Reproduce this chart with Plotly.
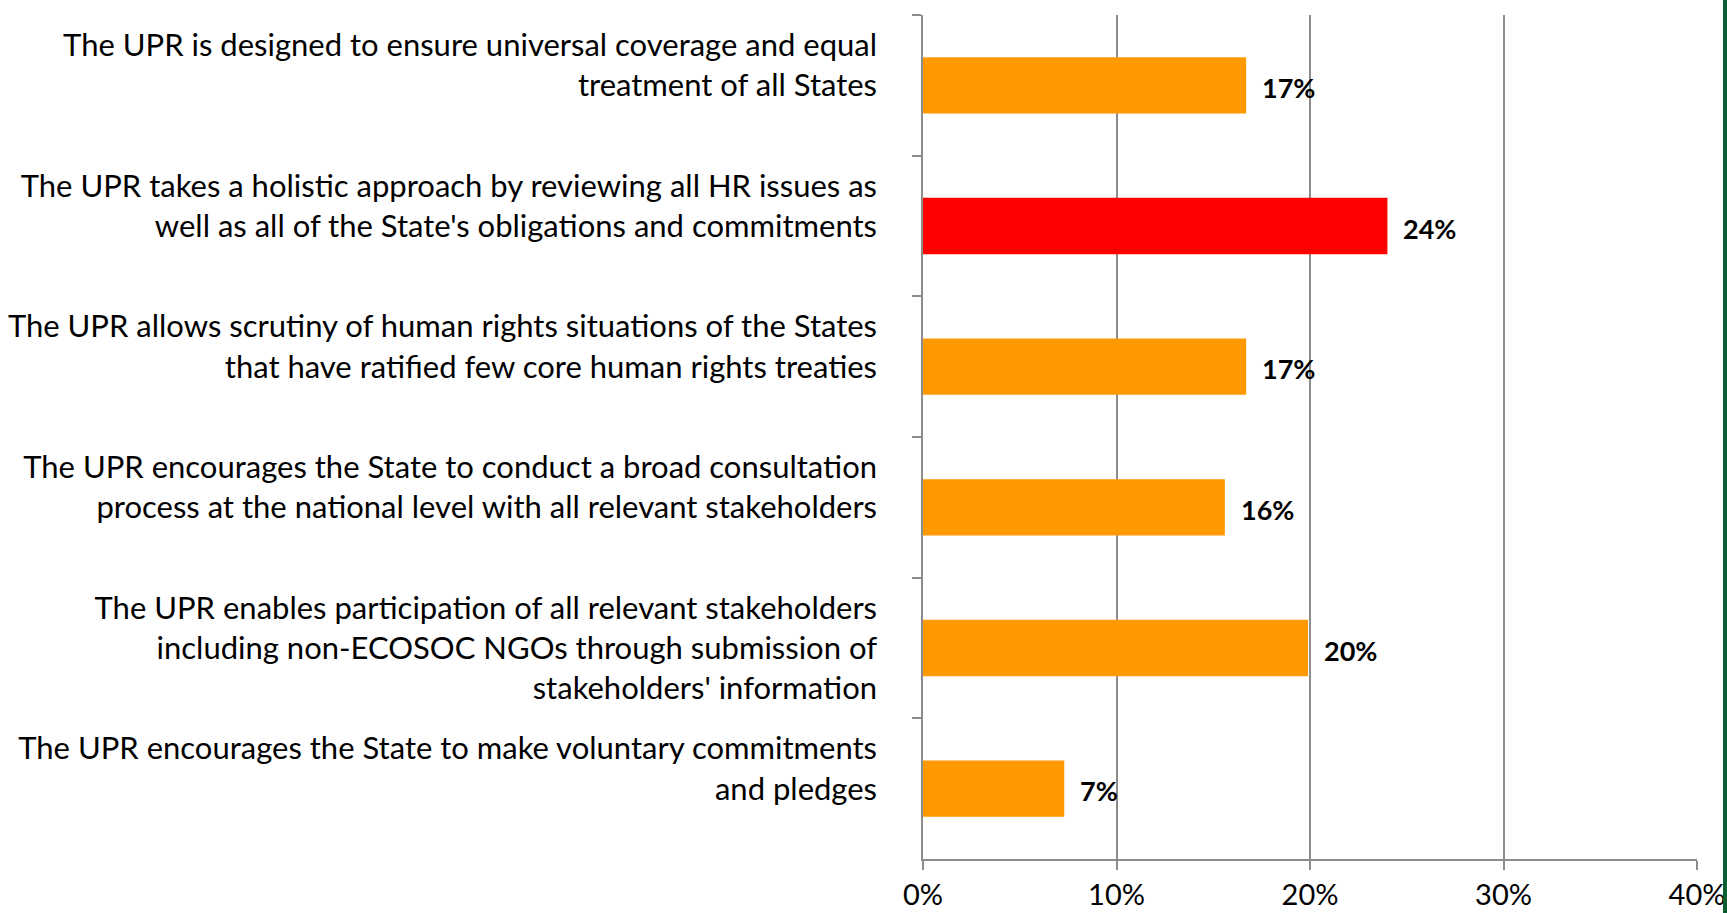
import plotly.graph_objects as go

labels = [
    "The UPR is designed to ensure universal coverage and equal<br>treatment of all States",
    "The UPR takes a holistic approach by reviewing all HR issues as<br>well as all of the State's obligations and commitments",
    "The UPR allows scrutiny of human rights situations of the States<br>that have ratified few core human rights treaties",
    "The UPR encourages the State to conduct a broad consultation<br>process at the national level with all relevant stakeholders",
    "The UPR enables participation of all relevant stakeholders<br>including non-ECOSOC NGOs through submission of<br>stakeholders' information",
    "The UPR encourages the State to make voluntary commitments<br>and pledges",
]
values = [0.167, 0.240, 0.167, 0.156, 0.199, 0.073]
value_text = ["17%", "24%", "17%", "16%", "20%", "7%"]
colors = ["#FF9900", "#FF0000", "#FF9900", "#FF9900", "#FF9900", "#FF9900"]

font = "Lato, Open Sans, sans-serif"
grid = "#8c8c8c"

# two-line labels sit a bit above the bar centre in the original, pad them to 3 lines
shown = [l if l.count("<br>") >= 2 else l + "<br>\u00a0" for l in labels]

fig = go.Figure()
fig.add_trace(go.Bar(
    x=values, y=shown, orientation="h",
    marker=dict(color=colors, line=dict(width=0)),
    width=0.4, showlegend=False, hoverinfo="skip",
))

for lab, v, t in zip(shown, values, value_text):
    fig.add_annotation(x=v, y=lab, text="<b>%s</b>" % t, showarrow=False,
                       xanchor="left", xshift=14, yshift=-2,
                       font=dict(family=font, size=27, color="black"))

fig.update_xaxes(range=[0, 0.4], dtick=0.1, tickformat=".0%",
                 showgrid=True, gridcolor=grid, gridwidth=1.5,
                 showline=True, linecolor=grid, linewidth=1.5,
                 ticks="outside", ticklen=9, tickcolor=grid, tickwidth=1.5,
                 zeroline=False, automargin=False,
                 tickfont=dict(family=font, size=29, color="black"))
fig.update_yaxes(autorange="reversed", tickson="boundaries",
                 showline=True, linecolor=grid, linewidth=1.5,
                 ticks="outside", ticklen=9, tickcolor=grid, tickwidth=1.5,
                 ticklabelstandoff=38, automargin=False,
                 tickfont=dict(family=font, size=31, color="black"))

fig.add_shape(type="rect", xref="paper", yref="paper",
              x0=1.0336, x1=1.045, y0=-0.1, y1=1.1,
              fillcolor="#0b5e32", line=dict(width=0))

fig.update_layout(
    width=1727, height=913,
    margin=dict(l=923, r=30, t=15, b=54),
    plot_bgcolor="white", paper_bgcolor="white",
    bargap=0.6,
)

fig.write_html("out.html", config={"displayModeBar": False},
               post_script="document.body.style.margin='0';")
